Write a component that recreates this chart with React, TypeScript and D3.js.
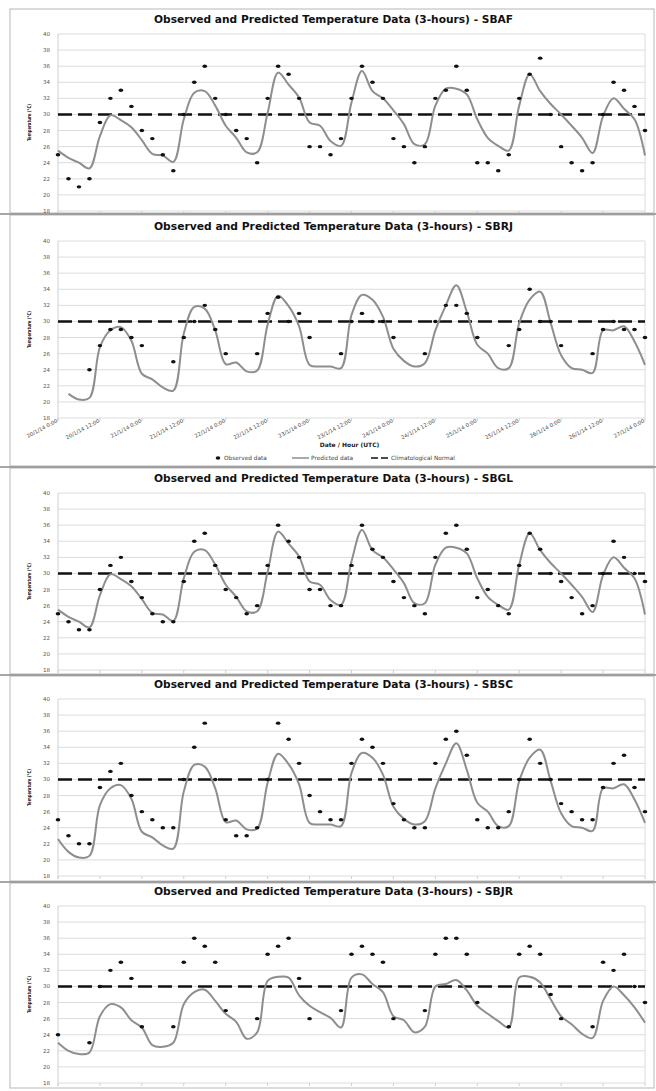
import React from "react";
import * as d3 from "d3";

// x axis: 3-hourly steps from 20/1/14 0:00 to 27/1/14 0:00 (57 steps), labelled every 12 h
const tickLabels = [
  "20/1/14 0:00", "20/1/14 12:00", "21/1/14 0:00", "21/1/14 12:00", "22/1/14 0:00",
  "22/1/14 12:00", "23/1/14 0:00", "23/1/14 12:00", "24/1/14 0:00", "24/1/14 12:00",
  "25/1/14 0:00", "25/1/14 12:00", "26/1/14 0:00", "26/1/14 12:00", "27/1/14 0:00",
];
const yTicks = [18, 20, 22, 24, 26, 28, 30, 32, 34, 36, 38, 40];
const climNormal = 30;

const stations = ["SBAF", "SBRJ", "SBGL", "SBSC", "SBJR"];

const obsSBAF = [25, 22, 21, 22, 29, 32, 33, 31, 28, 27, 25, 23, 30, 34, 36, 32, 30, 28, 27, 24, 32, 36, 35, 32, 26, 26, 25, 27, 32, 36, 34, 32, 27, 26, 24, 26, 32, 33, 36, 33, 24, 24, 23, 25, 32, 35, 37, 30, 26, 24, 23, 24, 30, 34, 33, 31, 28];
const predSBAF = [25.5, 24.6, 24.0, 23.3, 27.3, 29.9, 29.3, 28.4, 26.8, 25.1, 24.9, 24.1, 29.4, 32.7, 32.9, 31.1, 28.6, 27.1, 25.3, 25.3, 30.2, 35.2, 33.7, 32.1, 29.0, 28.6, 26.7, 26.1, 31.5, 35.4, 32.9, 32.0, 30.5, 28.8, 26.3, 26.3, 31.1, 33.2, 33.2, 32.5, 29.4, 27.1, 26.1, 25.5, 31.1, 35.0, 32.9, 31.3, 30.0, 28.6, 27.1, 25.2, 29.8, 32.0, 30.7, 29.4, 24.9];

const obsSBRJ = [null, null, null, 24, 27, 29, 29, 28, 27, null, null, 25, 28, 30, 32, 29, 26, null, null, 26, 31, 33, 30, 31, 28, null, null, 26, 30, 31, 30, 30, 28, null, null, 26, 30, 32, 32, 31, 28, null, null, 27, 29, 34, 30, 30, 27, null, null, 26, 29, 30, 29, 29, 28];
const predSBRJ = [null, 21.0, 20.3, 20.5, 26.8, 28.9, 29.3, 27.6, 23.5, 22.8, 21.8, 21.4, 28.5, 31.8, 31.6, 28.9, 24.7, 24.9, 23.8, 23.9, 29.6, 33.2, 31.9, 29.4, 24.6, 24.4, 24.4, 24.2, 30.8, 33.3, 32.7, 30.6, 26.6, 25.1, 24.4, 24.8, 28.9, 32.0, 34.5, 31.2, 27.1, 26.0, 24.2, 24.2, 29.8, 32.7, 33.7, 29.8, 25.8, 24.2, 24.0, 23.6, 28.9, 28.9, 29.4, 27.5, 24.6];

const obsSBGL = [25, 24, 23, 23, 28, 31, 32, 29, 27, 25, 24, 24, 29, 34, 35, 31, 28, 27, 25, 26, 31, 36, 34, 32, 28, 28, 26, 26, 31, 36, 33, 32, 29, 27, 26, 25, 32, 35, 36, 33, 27, 28, 26, 25, 31, 35, 33, 30, 29, 27, 25, 26, 30, 34, 32, 30, 29];
const predSBGL = [25.5, 24.6, 24.0, 23.3, 27.3, 29.9, 29.3, 28.4, 26.8, 25.1, 24.9, 24.1, 29.4, 32.7, 32.9, 31.1, 28.6, 27.1, 25.3, 25.3, 30.2, 35.2, 33.7, 32.1, 29.0, 28.6, 26.7, 26.1, 31.5, 35.4, 32.9, 32.0, 30.5, 28.8, 26.3, 26.3, 31.1, 33.2, 33.2, 32.5, 29.4, 27.1, 26.1, 25.5, 31.1, 35.0, 32.9, 31.3, 30.0, 28.6, 27.1, 25.2, 29.8, 32.0, 30.7, 29.4, 24.9];

const obsSBSC = [25, 23, 22, 22, 29, 31, 32, 28, 26, 25, 24, 24, 30, 34, 37, 30, 25, 23, 23, 24, 30, 37, 35, 32, 28, 26, 25, 25, 32, 35, 34, 32, 27, 25, 24, 24, 32, 35, 36, 33, 25, 24, 24, 26, 30, 35, 32, 30, 27, 26, 25, 25, 29, 32, 33, 29, 26];
const predSBSC = [22.6, 21.0, 20.3, 20.5, 26.8, 28.9, 29.3, 27.6, 23.5, 22.8, 21.8, 21.4, 28.5, 31.8, 31.6, 28.9, 24.7, 24.9, 23.8, 23.9, 29.6, 33.2, 31.9, 29.4, 24.6, 24.4, 24.4, 24.2, 30.8, 33.3, 32.7, 30.6, 26.6, 25.1, 24.4, 24.8, 28.9, 32.0, 34.5, 31.2, 27.1, 26.0, 24.2, 24.2, 29.8, 32.7, 33.7, 29.8, 25.8, 24.2, 24.0, 23.6, 28.9, 28.9, 29.4, 27.5, 24.6];

const obsSBJR = [24, null, null, 23, 30, 32, 33, 31, 25, null, null, 25, 33, 36, 35, 33, 27, null, null, 26, 34, 35, 36, 31, 26, null, null, 27, 34, 35, 34, 33, 26, null, null, 27, 34, 36, 36, 34, 28, null, null, 25, 34, 35, 34, 29, 26, null, null, 25, 33, 32, 34, 30, 28];
const predSBJR = [23.0, 22.0, 21.6, 21.8, 26.3, 27.8, 27.4, 25.8, 24.9, 22.7, 22.5, 23.0, 27.8, 29.3, 29.6, 28.2, 26.6, 25.6, 23.5, 24.3, 30.7, 31.2, 31.1, 28.9, 27.6, 26.8, 26.1, 24.9, 31.1, 31.5, 30.3, 29.3, 26.3, 25.8, 24.3, 25.0, 30.0, 30.3, 30.8, 29.5, 27.6, 26.6, 25.7, 24.9, 31.1, 31.2, 30.5, 28.4, 26.3, 25.3, 24.1, 23.6, 28.2, 30.0, 28.9, 27.4, 25.5];

const observed = [obsSBAF, obsSBRJ, obsSBGL, obsSBSC, obsSBJR];
const predicted = [predSBAF, predSBRJ, predSBGL, predSBSC, predSBJR];

const W = 656;
const H = 1091;
// vertical placement of each panel (frame top/bottom, plot top for 40 °C)
const frames = [
  { top: 9, bottom: 213, plotTop: 34 },
  { top: 215, bottom: 466, plotTop: 241 },
  { top: 468, bottom: 674, plotTop: 493 },
  { top: 676, bottom: 881, plotTop: 699 },
  { top: 883, bottom: 1088, plotTop: 906 },
];
const plotH = 177;
const left = 58;
const right = 645;
const font = "'DejaVu Sans', Verdana, sans-serif";

const x = d3.scaleLinear().domain([0, 56]).range([left, right]);

const Panel = ({ idx }: { idx: number }) => {
  const f = frames[idx];
  const y = d3.scaleLinear().domain([18, 40]).range([f.plotTop + plotH, f.plotTop]);
  const obs = observed[idx];
  const pred = predicted[idx];
  const line = d3
    .line<number | null>()
    .defined((d) => d != null)
    .x((d, i) => x(i))
    .y((d) => y(d as number))
    .curve(d3.curveCatmullRom.alpha(0.5));
  const bottom = f.plotTop + plotH;
  const showAxis = idx === 1;

  return (
    <g>
      <rect x={10} y={f.top} width={644} height={f.bottom - f.top} fill="#fff" stroke="#b8b8b8" strokeWidth={1} />
      <text
        x={333.5}
        y={f.plotTop - 11.5}
        textAnchor="middle"
        fontFamily={font}
        fontWeight="bold"
        fontSize={10}
        textLength={359}
        lengthAdjust="spacingAndGlyphs"
        fill="#111"
      >
        {`Observed and Predicted Temperature Data (3-hours) - ${stations[idx]}`}
      </text>

      {/* grid */}
      {yTicks.map((t) => (
        <line key={t} x1={left} x2={right} y1={y(t)} y2={y(t)} stroke="#dcdcdc" strokeWidth={1} />
      ))}
      <line x1={left} x2={left} y1={f.plotTop} y2={bottom + 3} stroke="#cfcfcf" />
      <line x1={right} x2={right} y1={f.plotTop} y2={bottom} stroke="#dcdcdc" />
      {tickLabels.map((_, k) => (
        <line key={k} x1={x(k * 4)} x2={x(k * 4)} y1={bottom} y2={bottom + 3} stroke="#cfcfcf" />
      ))}

      {yTicks.map((t) => (
        <text key={t} x={50} y={y(t) + 2} textAnchor="end" fontFamily={font} fontSize={5.5} fill="#555">
          {t}
        </text>
      ))}
      <text
        transform={`translate(31,${f.plotTop + plotH / 2}) rotate(-90)`}
        textAnchor="middle"
        fontFamily={font}
        fontWeight="bold"
        fontSize={5.2}
        textLength={37}
        lengthAdjust="spacingAndGlyphs"
        fill="#222"
      >
        Temperature (°C)
      </text>

      {/* climatological normal */}
      <line x1={left} x2={right} y1={y(climNormal)} y2={y(climNormal)} stroke="#111" strokeWidth={2.4} strokeDasharray="14 6" />

      {/* predicted */}
      <path d={line(pred) || ""} fill="none" stroke="#8e8e8e" strokeWidth={2} />

      {/* observed */}
      {obs.map((v, i) =>
        v == null ? null : <ellipse key={i} cx={x(i)} cy={y(v)} rx={2.3} ry={1.7} fill="#111" />
      )}

      {showAxis && (
        <g>
          {tickLabels.map((lab, k) => (
            <text
              key={lab}
              transform={`translate(${x(k * 4)},${bottom + 4}) rotate(-28)`}
              textAnchor="end"
              fontFamily={font}
              fontSize={5.3}
              fill="#444"
            >
              {lab}
            </text>
          ))}
          <text x={349.5} y={bottom + 29} textAnchor="middle" fontFamily={font} fontWeight="bold" fontSize={6} fill="#222">
            Date / Hour (UTC)
          </text>
          <g fontFamily={font} fontSize={5.8} fill="#444">
            <ellipse cx={218} cy={bottom + 40} rx={2.3} ry={1.7} fill="#111" />
            <text x={224} y={bottom + 42}>Observed data</text>
            <line x1={292} x2={309} y1={bottom + 40} y2={bottom + 40} stroke="#8e8e8e" strokeWidth={1.5} />
            <text x={311} y={bottom + 42}>Predicted data</text>
            <line x1={371} x2={389} y1={bottom + 40} y2={bottom + 40} stroke="#111" strokeWidth={1.5} strokeDasharray="7 3" />
            <text x={391} y={bottom + 42}>Climatological Normal</text>
          </g>
        </g>
      )}
    </g>
  );
};

const App = () => {
  return (
    <svg
      width={W}
      height={H}
      viewBox={`0 0 ${W} ${H}`}
      style={{ position: "absolute", left: 0, top: 0, background: "#fff" }}
    >
      <rect x={0} y={0} width={W} height={H} fill="#fff" />
      {stations.map((s, i) => (
        <Panel key={s} idx={i} />
      ))}
      {[214, 467, 675, 882].map((yy) => (
        <line key={yy} x1={0} x2={W} y1={yy} y2={yy} stroke="#8a8a8a" strokeWidth={1.5} />
      ))}
    </svg>
  );
};

export default App;
